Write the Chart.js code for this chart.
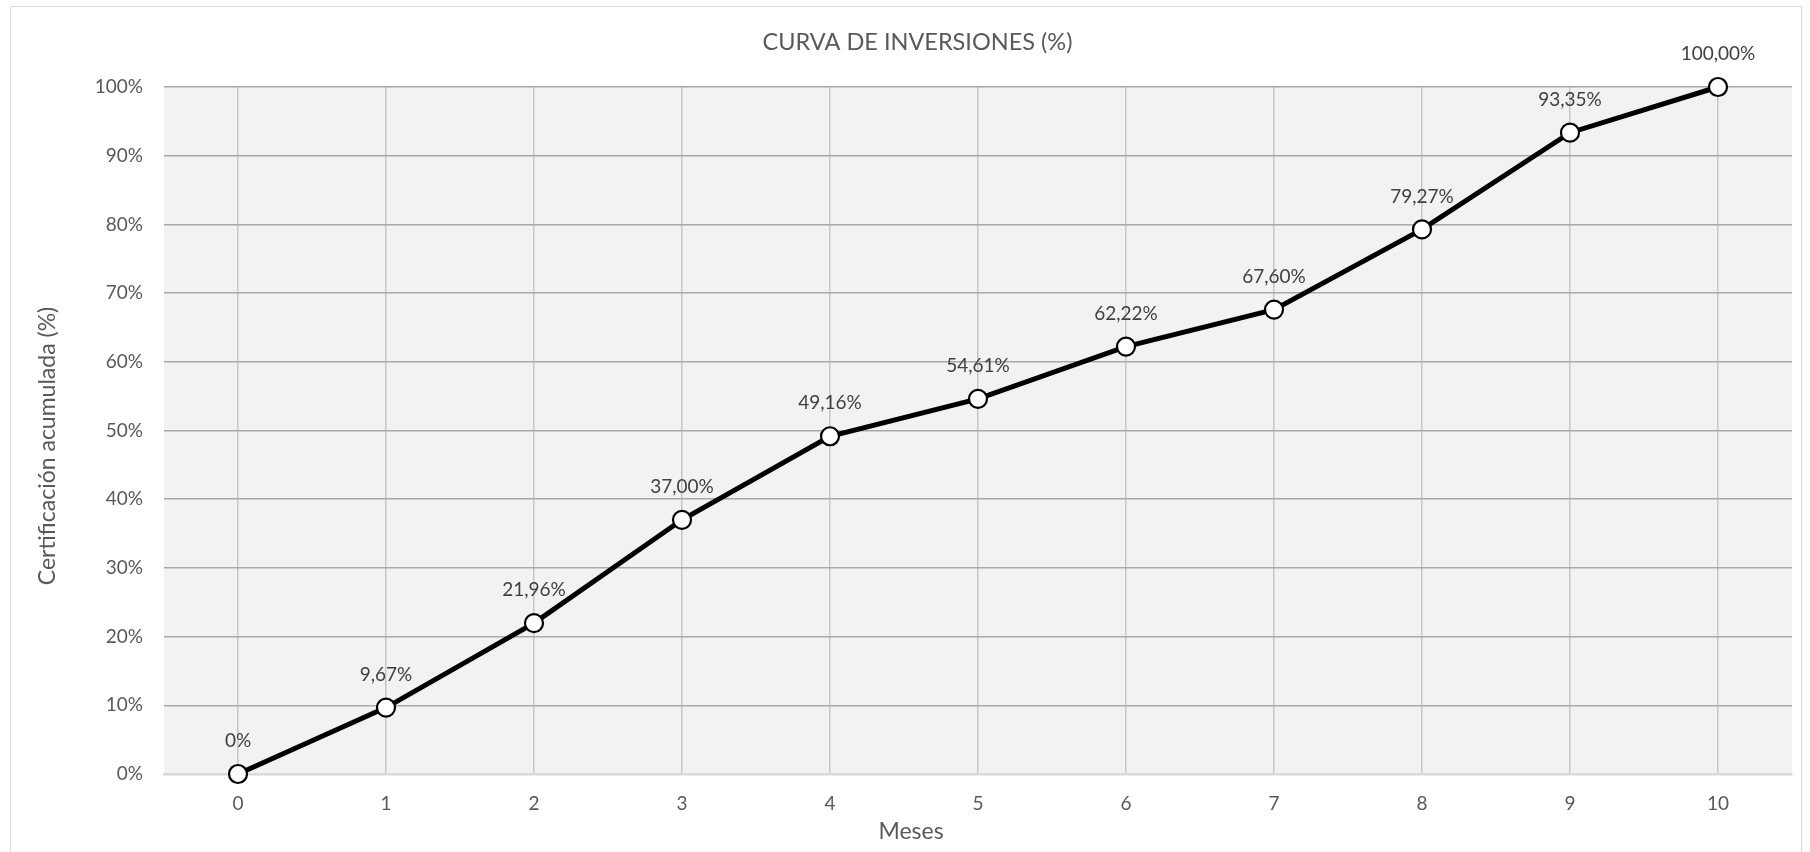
<!DOCTYPE html>
<html>
<head>
<meta charset="utf-8">
<script src="https://cdn.jsdelivr.net/npm/chart.js@4.4.1/dist/chart.umd.min.js"></script>
<style>
  html, body { margin: 0; padding: 0; background: #fff; overflow: hidden; }
  #frame { position: absolute; left: 10px; top: 6px; width: 1790px; height: 846px;
           border: 1px solid #d9d9d9; border-bottom: none; }
  #chart { position: absolute; left: 0; top: 0; }
</style>
</head>
<body>
<div id="frame"></div>
<canvas id="chart" width="1810" height="852"></canvas>
<script>
// datos de la curva
const meses = ['0', '1', '2', '3', '4', '5', '6', '7', '8', '9', '10'];
const certificacion = [0, 9.67, 21.96, 37.00, 49.16, 54.61, 62.22, 67.60, 79.27, 93.35, 100.00];
const titulo = 'CURVA DE INVERSIONES (%)';
const tituloX = 'Meses';
const tituloY = 'Certificación acumulada (%)';

const FONT = 'Lato, "Open Sans", sans-serif';

const fmt = v => v === 0 ? '0%' : v.toFixed(2).replace('.', ',') + '%';

// fondo gris del area de trazado
const plotBg = {
  id: 'plotBg',
  beforeDraw(chart) {
    const { ctx, chartArea: a } = chart;
    ctx.save();
    ctx.fillStyle = '#f2f2f2';
    ctx.fillRect(a.left, a.top, a.right - a.left, a.bottom - a.top);
    ctx.restore();
  }
};

// etiquetas encima de cada punto + titulos de ejes (centrados como en excel)
const pointLabels = {
  id: 'pointLabels',
  afterDatasetsDraw(chart) {
    const { ctx } = chart;
    const meta = chart.getDatasetMeta(0);
    ctx.save();
    ctx.font = '19px ' + FONT;
    ctx.fillStyle = '#404040';
    ctx.textAlign = 'center';
    ctx.textBaseline = 'middle';
    meta.data.forEach((pt, i) => {
      ctx.fillText(fmt(certificacion[i]), pt.x, pt.y - 33);
    });
    ctx.font = '23px ' + FONT;
    ctx.fillStyle = '#595959';
    ctx.fillText(tituloX, 911, 832);
    ctx.translate(48, 446);
    ctx.rotate(-Math.PI / 2);
    ctx.fillText(tituloY, 0, 0);
    ctx.restore();
  }
};

new Chart(document.getElementById('chart'), {
  type: 'line',
  data: {
    labels: meses,
    datasets: [{
      data: certificacion,
      borderColor: '#000',
      borderWidth: 5,
      tension: 0,
      clip: false,
      pointRadius: 9,
      pointHoverRadius: 9,
      pointBackgroundColor: '#fff',
      pointBorderColor: '#000',
      pointBorderWidth: 2.2
    }]
  },
  options: {
    responsive: false,
    animation: false,
    events: [],
    layout: { padding: { left: 43, right: 18, top: 0, bottom: 0 } },
    plugins: {
      legend: { display: false },
      tooltip: { enabled: false },
      title: {
        display: true,
        text: titulo,
        color: '#595959',
        font: { family: FONT, size: 23.5, weight: 'normal', lineHeight: 1.2 },
        padding: { top: 28, bottom: 30.8 }
      }
    },
    scales: {
      x: {
        offset: true,
        grid: { offset: false, color: '#c6c6c6', lineWidth: 1.5, drawTicks: false },
        border: { display: true, color: '#d9d9d9', width: 2.5 },
        ticks: { color: '#595959', padding: 18, font: { family: FONT, size: 19 } },
        title: { display: false },
        afterFit(s) { s.height = 78; }
      },
      y: {
        min: 0,
        max: 100,
        grid: {
          color: c => c.tick && c.tick.value === 0 ? 'rgba(0,0,0,0)' : '#a9a9a9',
          lineWidth: 1.5,
          drawTicks: false
        },
        border: { display: false },
        ticks: {
          stepSize: 10,
          color: '#595959',
          padding: 21,
          font: { family: FONT, size: 19 },
          callback: v => v + '%'
        },
        title: { display: false },
        afterFit(s) { s.width = 121; }
      }
    }
  },
  plugins: [plotBg, pointLabels]
});
</script>
</body>
</html>
